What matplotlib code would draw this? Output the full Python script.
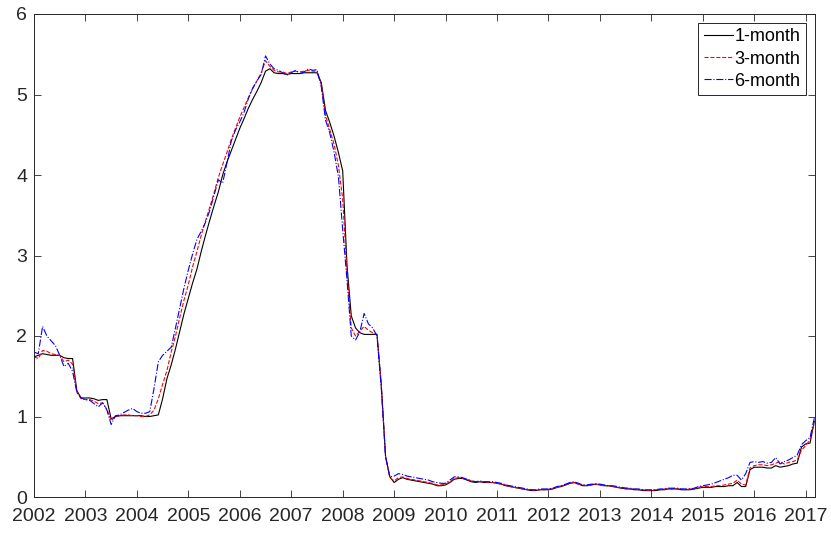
import numpy as np
import pandas as pd
import matplotlib
matplotlib.use("Agg")
import matplotlib.pyplot as plt

plt.rcParams["font.family"] = ["Liberation Sans", "DejaVu Sans"]

# monthly observations, Jan 2002 .. Mar 2017
months = pd.date_range("2002-01-01", "2017-03-01", freq="MS")

rate_1m = [
    1.74, 1.76, 1.78, 1.77, 1.76, 1.76, 1.76, 1.73, 1.72, 1.72, 1.32, 1.23,
    1.23, 1.23, 1.22, 1.20, 1.21, 1.21, 0.97, 1.00, 1.01, 1.01, 1.01, 1.01,
    1.01, 1.01, 1.00, 1.00, 1.01, 1.02, 1.22, 1.47, 1.64, 1.84, 2.06, 2.28,
    2.47, 2.66, 2.83, 3.05, 3.25, 3.44, 3.62, 3.79, 4.00, 4.16, 4.30, 4.44,
    4.58, 4.70, 4.83, 4.94, 5.04, 5.15, 5.29, 5.32, 5.27, 5.26, 5.26, 5.25,
    5.26, 5.26, 5.26, 5.27, 5.27, 5.27, 5.27, 5.15, 4.80, 4.65, 4.48, 4.28,
    4.05, 2.88, 2.25, 2.10, 2.04, 2.02, 2.02, 2.02, 2.02, 1.40, 0.50, 0.25,
    0.18, 0.22, 0.24, 0.22, 0.21, 0.20, 0.19, 0.18, 0.17, 0.16, 0.14, 0.14,
    0.15, 0.18, 0.22, 0.23, 0.23, 0.21, 0.19, 0.18, 0.19, 0.18, 0.18, 0.18,
    0.17, 0.16, 0.14, 0.13, 0.12, 0.11, 0.10, 0.09, 0.08, 0.08, 0.09, 0.09,
    0.09, 0.10, 0.12, 0.13, 0.15, 0.17, 0.18, 0.16, 0.14, 0.14, 0.15, 0.16,
    0.15, 0.14, 0.14, 0.13, 0.12, 0.11, 0.10, 0.10, 0.09, 0.09, 0.08, 0.08,
    0.08, 0.08, 0.09, 0.09, 0.10, 0.10, 0.10, 0.09, 0.09, 0.09, 0.10, 0.11,
    0.12, 0.12, 0.12, 0.13, 0.13, 0.13, 0.14, 0.14, 0.18, 0.13, 0.13, 0.34,
    0.37, 0.37, 0.37, 0.36, 0.36, 0.39, 0.37, 0.38, 0.39, 0.41, 0.42, 0.62,
    0.66, 0.67, 0.94,
]

rate_3m = [
    1.74, 1.72, 1.82, 1.81, 1.78, 1.77, 1.76, 1.68, 1.70, 1.65, 1.30, 1.22,
    1.21, 1.21, 1.19, 1.16, 1.17, 1.09, 0.95, 1.00, 1.01, 1.02, 1.02, 1.01,
    1.01, 1.00, 1.00, 1.02, 1.08, 1.22, 1.40, 1.57, 1.80, 2.00, 2.23, 2.45,
    2.64, 2.86, 3.05, 3.25, 3.43, 3.60, 3.78, 3.97, 4.13, 4.28, 4.44, 4.58,
    4.72, 4.84, 4.96, 5.07, 5.17, 5.27, 5.42, 5.35, 5.30, 5.28, 5.28, 5.26,
    5.28, 5.29, 5.28, 5.29, 5.30, 5.29, 5.29, 5.12, 4.74, 4.56, 4.38, 4.12,
    3.70, 2.80, 2.10, 2.00, 2.06, 2.12, 2.07, 2.04, 2.02, 1.38, 0.50, 0.24,
    0.20, 0.24, 0.25, 0.23, 0.22, 0.21, 0.20, 0.19, 0.18, 0.17, 0.15, 0.15,
    0.16, 0.19, 0.23, 0.24, 0.23, 0.22, 0.20, 0.19, 0.19, 0.19, 0.18, 0.18,
    0.17, 0.16, 0.15, 0.13, 0.12, 0.11, 0.10, 0.09, 0.09, 0.08, 0.09, 0.09,
    0.10, 0.10, 0.12, 0.14, 0.15, 0.17, 0.18, 0.16, 0.15, 0.14, 0.15, 0.16,
    0.15, 0.14, 0.14, 0.13, 0.12, 0.11, 0.11, 0.10, 0.10, 0.09, 0.09, 0.08,
    0.08, 0.09, 0.09, 0.10, 0.10, 0.10, 0.10, 0.10, 0.09, 0.10, 0.10, 0.12,
    0.13, 0.13, 0.13, 0.14, 0.14, 0.15, 0.16, 0.17, 0.21, 0.16, 0.15, 0.36,
    0.39, 0.40, 0.40, 0.39, 0.40, 0.42, 0.44, 0.41, 0.43, 0.44, 0.46, 0.58,
    0.64, 0.71, 0.92,
]

rate_6m = [
    1.80, 1.78, 2.12, 2.00, 1.94, 1.88, 1.76, 1.62, 1.66, 1.56, 1.30, 1.23,
    1.21, 1.20, 1.16, 1.12, 1.17, 1.08, 0.90, 1.01, 1.02, 1.05, 1.08, 1.10,
    1.06, 1.04, 1.04, 1.06, 1.35, 1.68, 1.76, 1.81, 1.86, 2.10, 2.35, 2.60,
    2.82, 3.02, 3.20, 3.30, 3.41, 3.56, 3.75, 3.94, 3.90, 4.15, 4.42, 4.56,
    4.66, 4.78, 4.95, 5.08, 5.17, 5.25, 5.48, 5.38, 5.32, 5.30, 5.27, 5.24,
    5.27, 5.30, 5.26, 5.28, 5.32, 5.30, 5.31, 5.10, 4.68, 4.52, 4.28, 3.98,
    3.32, 2.70, 2.00, 1.95, 2.05, 2.28, 2.15, 2.10, 2.00, 1.35, 0.50, 0.25,
    0.26, 0.29, 0.28, 0.26, 0.25, 0.24, 0.23, 0.22, 0.21, 0.19, 0.18, 0.17,
    0.17, 0.21, 0.25, 0.25, 0.24, 0.22, 0.20, 0.19, 0.20, 0.19, 0.19, 0.19,
    0.18, 0.17, 0.15, 0.14, 0.13, 0.12, 0.11, 0.10, 0.09, 0.09, 0.10, 0.10,
    0.10, 0.11, 0.13, 0.14, 0.16, 0.18, 0.19, 0.17, 0.15, 0.15, 0.16, 0.16,
    0.16, 0.15, 0.14, 0.14, 0.13, 0.12, 0.11, 0.11, 0.10, 0.10, 0.09, 0.09,
    0.09, 0.09, 0.10, 0.10, 0.11, 0.11, 0.11, 0.10, 0.10, 0.10, 0.11, 0.13,
    0.14, 0.15, 0.16, 0.18, 0.20, 0.22, 0.24, 0.27, 0.27, 0.21, 0.29, 0.43,
    0.44, 0.43, 0.44, 0.42, 0.43, 0.49, 0.41, 0.44, 0.46, 0.49, 0.52, 0.65,
    0.70, 0.74, 0.98,
]

year_ticks = list(range(2002, 2018))
value_ticks = [0, 1, 2, 3, 4, 5, 6]

# decimal years for the x axis
t = months.year + (months.month - 1) / 12

fig = plt.figure(figsize=(8.31, 5.33), dpi=100)
ax = fig.add_axes([34 / 831, 36 / 533, 781 / 831, 483 / 533])

ax.plot(t, rate_1m, color="k", lw=0.8, ls="-", label="1-month")
ax.plot(t, rate_3m, color="r", lw=0.8, ls="--", label="3-month")
ax.plot(t, rate_6m, color="b", lw=0.8, ls="-.", label="6-month")

ax.set_xlim(2002, 2017.18)
ax.set_ylim(0, 6)
ax.set_xticks(year_ticks)
ax.set_xticklabels([str(y) for y in year_ticks])
ax.set_yticks(value_ticks)

ax.tick_params(direction="in", top=True, right=True, length=5, width=0.6,
               labelsize=14, colors="#262626")
ax.tick_params(axis="x", pad=8)
ax.tick_params(axis="y", pad=5)
for s in ax.spines.values():
    s.set_linewidth(0.7)
    s.set_color("#262626")

leg = ax.legend(loc="upper right", fontsize=13, frameon=True, fancybox=False,
                framealpha=1, edgecolor="#262626", handlelength=1.6,
                handletextpad=0.1, borderpad=0.3, labelspacing=0.28,
                borderaxespad=0.5)
leg.get_frame().set_linewidth(0.7)

fig.savefig("out.png", dpi=100)
